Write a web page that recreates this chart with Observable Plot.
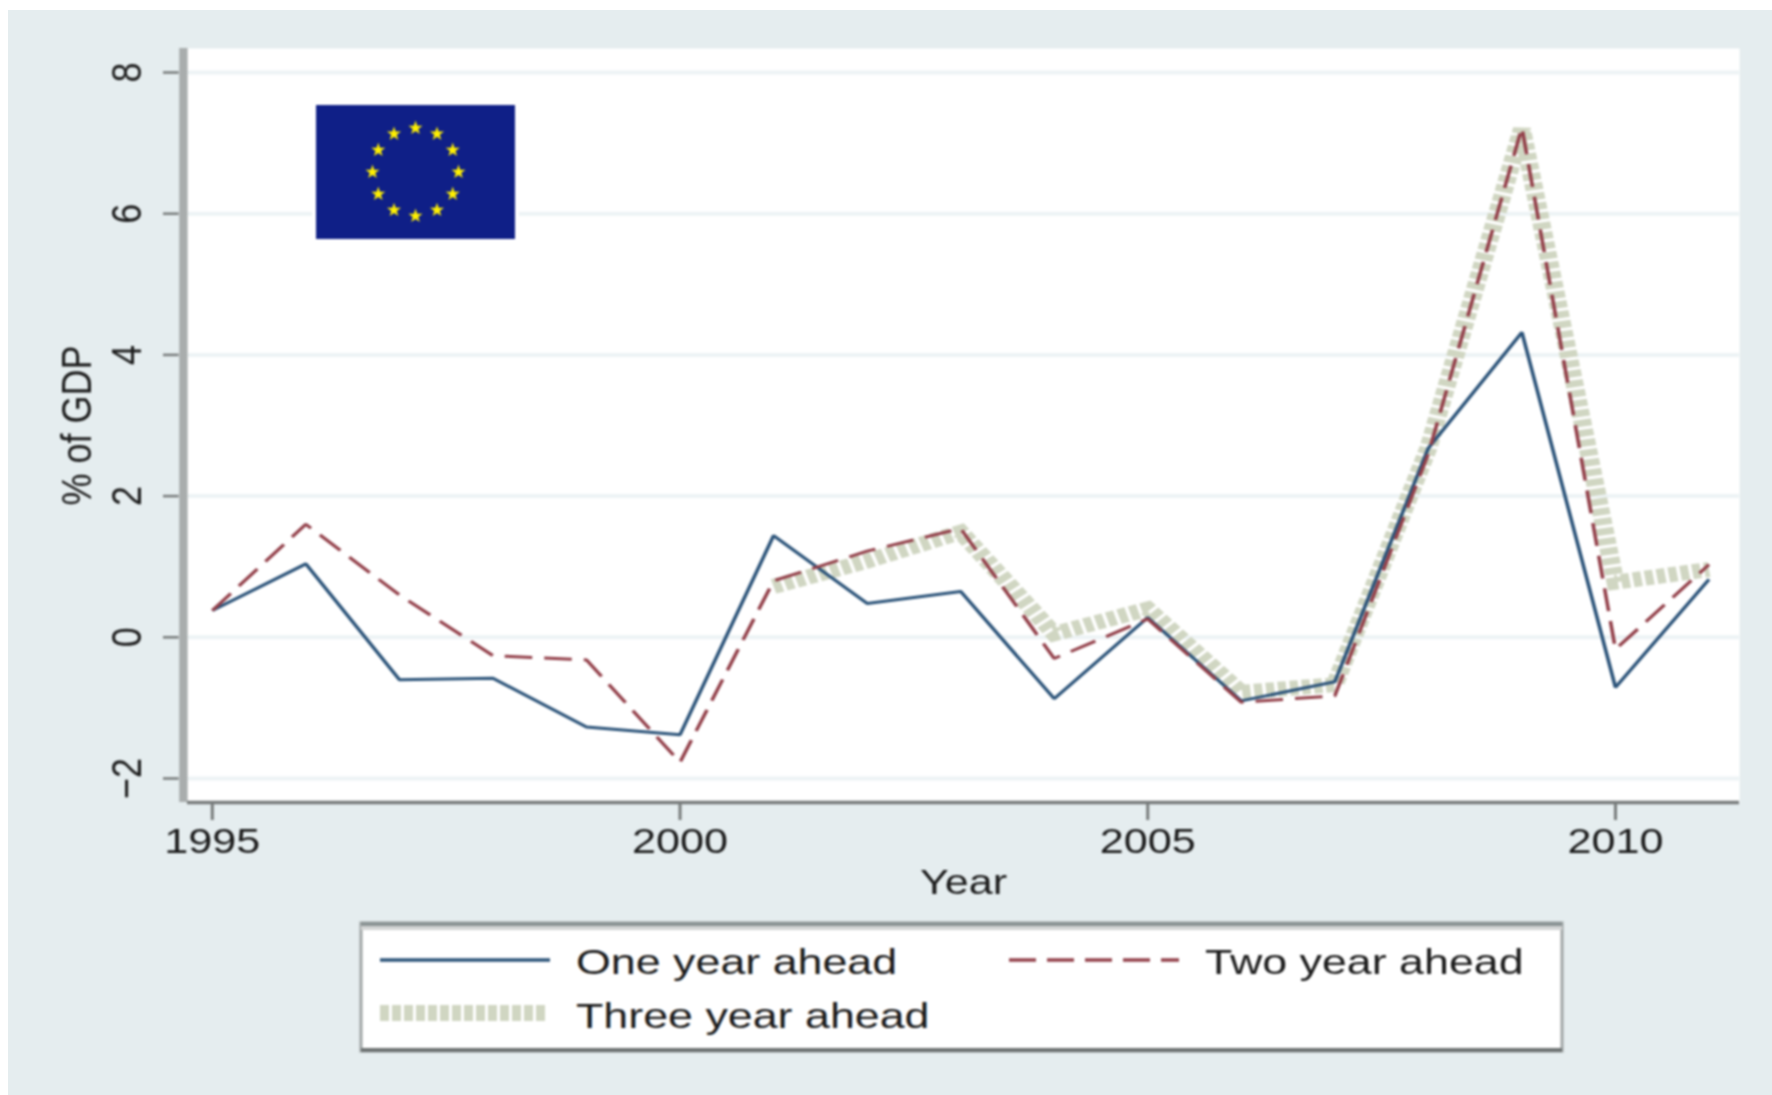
<!DOCTYPE html>
<html>
<head>
<meta charset="utf-8">
<script src="https://cdn.jsdelivr.net/npm/d3@7"></script>
<script src="https://cdn.jsdelivr.net/npm/@observablehq/plot@0.6"></script>
<style>
html,body{margin:0;padding:0;background:#fff;width:1772px;height:1095px;overflow:hidden}
#page{position:absolute;left:8px;top:10px;width:1764px;height:1085px;background:#e5edef}
#chart{position:absolute;left:0;top:0;width:1772px;height:1095px;filter:blur(1px)}
#over{position:absolute;left:0;top:0;width:1772px;height:1095px;filter:blur(.9px)}
</style>
</head>
<body>
<div id="page"></div>
<div id="chart"></div>
<svg id="over" width="1772" height="1095" xmlns="http://www.w3.org/2000/svg"></svg>
<script>
const years = [1995,1996,1997,1998,1999,2000,2001,2002,2003,2004,2005,2006,2007,2008,2009,2010,2011];
const oneYear = [0.38,1.04,-0.6,-0.58,-1.27,-1.38,1.44,0.48,0.65,-0.87,0.28,-0.9,-0.63,2.68,4.32,-0.71,0.82];
const twoYear = [0.38,1.6,0.6,-0.26,-0.32,-1.77,0.8,1.22,1.54,-0.3,0.26,-0.92,-0.83,2.6,7.22,-0.17,1.03];
const threeYear = [null,null,null,null,null,null,0.72,1.08,1.49,0.05,0.4,-0.78,-0.67,2.68,7.2,0.78,0.96];
const xTicks = [1995,2000,2005,2010];
const yTicks = [-2,0,2,4,6,8];
const xDomain = [1994.736,2011.327];
const yDomain = [-2.34,8.34];
const legendLabels = ["One year ahead","Two year ahead","Three year ahead"];
const navy = "#2b5379", maroon = "#93404a", pale = "#d0d6c2", ink = "#1c1c1c";
const grid = "#edf3f5", axisDark = "#777b7b", axisLight = "#a9adad";

const W = 1477, k = 1772 / W;
const font = "'Liberation Sans', Arial, sans-serif";

const chart = Plot.plot({
  width: W, height: 1095,
  marginLeft: 187 / k, marginRight: (1772 - 1739) / k, marginTop: 48, marginBottom: 1095 - 802,
  style: {background: "transparent", fontFamily: font, overflow: "visible"},
  x: {domain: xDomain},
  y: {domain: yDomain},
  marks: [
    Plot.frame({fill: "#fff", stroke: "none"}),
    Plot.gridY(yTicks, {stroke: grid, strokeOpacity: 1, strokeWidth: 4}),
    Plot.ruleX([xDomain[0]], {stroke: axisLight, strokeWidth: 7, dx: -3.5}),
    Plot.ruleY([yDomain[0]], {stroke: axisDark, strokeWidth: 3.5}),
    Plot.axisY(yTicks, {
      anchor: "left", tickSize: 13, tickPadding: 19, tickRotate: -90, fontSize: 36, color: ink,
      tickFormat: d3.format("d"), stroke: axisDark, strokeWidth: 2.5, dx: -7,
      label: "% of GDP", labelAnchor: "center", labelOffset: 106, labelArrow: "none"
    }),
    Plot.axisX(xTicks, {
      anchor: "bottom", tickSize: 18, tickPadding: 7, fontSize: 36, color: ink,
      tickFormat: d3.format("d"), stroke: axisDark, strokeWidth: 2.5,
      label: "Year", labelAnchor: "center", labelOffset: 91, labelArrow: "none"
    }),
    Plot.line(years, {x: years, y: threeYear, stroke: pale, strokeWidth: 15, strokeDasharray: "7 3", strokeLinecap: "butt", strokeLinejoin: "miter", strokeMiterlimit: 3}),
    Plot.line(years, {x: years, y: oneYear, stroke: navy, strokeWidth: 3, strokeLinecap: "butt", strokeLinejoin: "miter"}),
    Plot.line(years, {x: years, y: twoYear, stroke: maroon, strokeWidth: 3, strokeDasharray: "23 10", strokeLinecap: "butt", strokeLinejoin: "miter"})
  ]
});
chart.setAttribute("width", 1772);
chart.setAttribute("height", 1095);
chart.setAttribute("preserveAspectRatio", "none");
chart.style.width = "1772px";
chart.style.height = "1095px";
chart.style.maxWidth = "none";
document.getElementById("chart").appendChild(chart);

// Flag and legend overlay
const over = d3.select("#over");
const flag = {x: 316, y: 105, w: 199, h: 134};
over.append("rect").attr("x", flag.x - 4).attr("y", flag.y - 4).attr("width", flag.w + 8).attr("height", flag.h + 8).attr("fill", "#fff");
over.append("rect").attr("x", flag.x).attr("y", flag.y).attr("width", flag.w).attr("height", flag.h).attr("fill", "#0f1f87");
const star = d3.range(10).map(i => {
  const r = i % 2 ? 2.9 : 7.4, a = i * Math.PI / 5;
  return [r * Math.sin(a), -r * Math.cos(a)];
}).map(p => p.map(v => v.toFixed(2)).join(",")).join(" ");
d3.range(12).forEach(i => {
  const a = i * Math.PI / 6;
  over.append("polygon").attr("points", star).attr("fill", "#fff000")
    .attr("transform", `translate(${flag.x + flag.w / 2 + 43 * Math.sin(a)},${flag.y + flag.h / 2 - 44 * Math.cos(a)})`);
});

// Legend box
const box = {x: 361, y: 923, w: 1201, h: 128};
over.append("rect").attr("x", box.x).attr("y", box.y).attr("width", box.w).attr("height", box.h).attr("fill", "#fff").attr("stroke", "#a0a5a5").attr("stroke-width", 3);
over.append("rect").attr("x", box.x).attr("y", box.y - 1).attr("width", box.w).attr("height", 4).attr("fill", "#8a9394");
over.append("rect").attr("x", box.x).attr("y", box.y + 3).attr("width", box.w).attr("height", 4).attr("fill", "#d2d4d4");
over.append("rect").attr("x", box.x).attr("y", box.y + box.h - 3).attr("width", box.w).attr("height", 4).attr("fill", "#6d7272");
const keys = [
  {x1: 380, x2: 550, y: 960, stroke: navy, sw: 3.5, dash: null, tx: 576, ty: 974},
  {x1: 1009, x2: 1179, y: 960, stroke: maroon, sw: 3.5, dash: "27 11", tx: 1205, ty: 974},
  {x1: 380, x2: 548, y: 1013, stroke: pale, sw: 16, dash: "9 3", tx: 576, ty: 1028}
];
keys.forEach((d, i) => {
  over.append("line").attr("x1", d.x1).attr("x2", d.x2).attr("y1", d.y).attr("y2", d.y)
    .attr("stroke", d.stroke).attr("stroke-width", d.sw).attr("stroke-dasharray", d.dash);
  over.append("text").text(legendLabels[i]).attr("transform", `translate(${d.tx},${d.ty}) scale(${k * 1.037},1)`)
    .attr("font-family", font).attr("font-size", 36).attr("fill", ink);
});
</script>
</body>
</html>
